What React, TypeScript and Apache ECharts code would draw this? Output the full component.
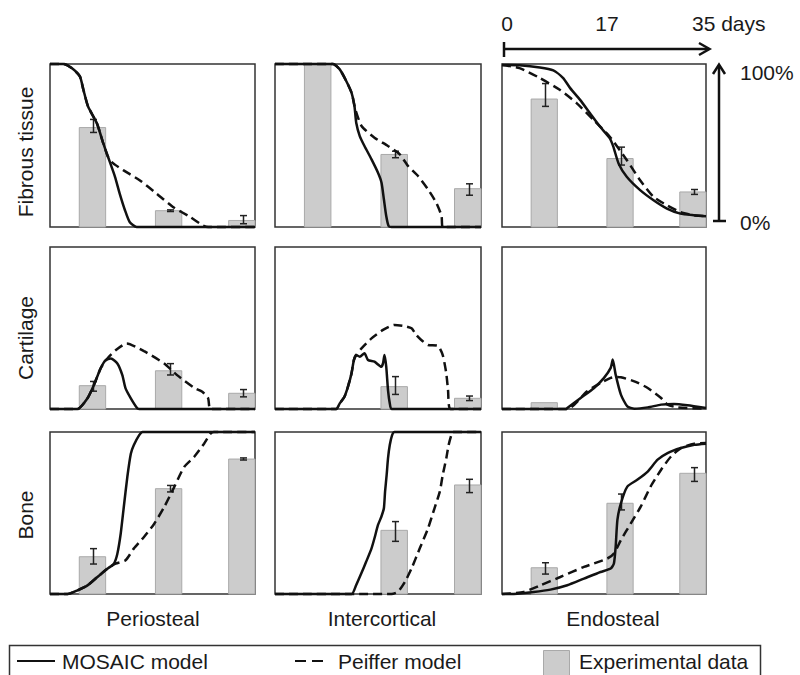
import React, { useEffect, useRef } from "react";
import * as echarts from "echarts";

// ---- layout labels ----
const rowLabels = ["Fibrous tissue", "Cartilage", "Bone"];
const colLabels = ["Periosteal", "Intercortical", "Endosteal"];
const dayTicks = ["0", "17", "35 days"];
const pctTicks = ["100%", "0%"];
const legendLabels = ["MOSAIC model", "Peiffer model", "Experimental data"];

// ---- experimental bars (days span of each bar) ----
const barStart = [5, 18, 30.5];
const barEnd = [9.5, 22.5, 35];

// values (%) and error bars [low, high]
const fibPerioBars = [61, 10, 4];
const fibPerioErr = [[58, 66], [9.5, 10.5], [2, 7]];
const fibInterBars = [100, 44.5, 23.5];
const fibInterErr = [null, [42.5, 46.5], [19.5, 26.5]];
const fibEndoBars = [78.5, 42, 21.5];
const fibEndoErr = [[74, 88], [38, 49], [20, 23]];

const cartPerioBars = [14.4, 23.6, 9.7];
const cartPerioErr = [[11, 17], [21, 28], [7.5, 12]];
const cartInterBars = [0, 13.8, 6.6];
const cartInterErr = [null, [9, 20], [5.2, 8]];
const cartEndoBars = [3.9, 0, 0];
const cartEndoErr = [null, null, null];

const bonePerioBars = [23, 65, 83.3];
const bonePerioErr = [[18.5, 28], [63, 67], [82.7, 84]];
const boneInterBars = [0, 39.3, 67.3];
const boneInterErr = [null, [32.5, 44.7], [62.6, 70.8]];
const boneEndoBars = [16.2, 56, 74.5];
const boneEndoErr = [[12.3, 19.3], [51.9, 61.7], [69.5, 78]];

// ---- model curves [day, %] ----
const fibPerioMosaic = [[0, 100], [2.3, 100], [3.7, 97.5], [5.1, 92.4], [5.7, 84.2], [6.5, 73.9], [8.0, 63.7], [9.1, 51.3], [9.9, 43.1], [11.1, 30.8], [11.9, 20.5], [12.8, 10.3], [13.6, 3.1], [14.8, 0], [35, 0]];
const fibPerioPeiffer = [[0, 100], [2.3, 100], [3.7, 97.5], [5.1, 92.4], [5.7, 84.2], [6.5, 73.9], [8.0, 63.7], [9.1, 51.3], [9.9, 43.1], [10.8, 39], [12.5, 34.9], [15.3, 28.7], [18.2, 20.5], [21.0, 12.3], [23.9, 6.2], [26.1, 1], [27, 0], [35, 0]];
const fibInterMosaic = [[0, 100], [9.85, 100], [11.0, 96.7], [12.1, 89.6], [13.0, 82.4], [13.5, 74.2], [13.8, 64], [14.4, 55.8], [15.2, 49.7], [16.4, 41.5], [17.5, 33.3], [18.1, 27.2], [18.5, 17], [18.9, 6.7], [19.3, 0.6], [19.8, 0], [35, 0]];
const fibInterPeiffer = [[0, 100], [9.85, 100], [11.0, 96.7], [12.1, 89.6], [13.0, 82.4], [13.65, 72.2], [14.7, 62], [16.9, 54.8], [19.2, 49.7], [21.2, 44.6], [22.6, 37.4], [24.3, 31.3], [26.0, 23.1], [27.4, 14.9], [28.3, 6.7], [28.5, 0], [35, 0]];
const fibEndoMosaic = [[0, 99.4], [3.0, 99.2], [6.5, 97.9], [8.8, 96.1], [10.5, 91.4], [11.7, 85.2], [13.4, 78], [15.1, 69.8], [16.8, 61.6], [18.5, 54.4], [19.1, 49.3], [20.0, 39], [21.4, 30.8], [23.7, 22.6], [26.0, 16.4], [28.3, 11.3], [30.6, 8.2], [32.9, 7.2], [35, 6.6]];
const fibEndoPeiffer = [[0, 99.4], [3.0, 97.5], [6.5, 91.4], [9.9, 84.2], [12.8, 76], [15.7, 65.7], [18.5, 55.4], [21.4, 41.1], [23.7, 28.7], [26.0, 18.5], [28.3, 13.3], [30.6, 9.2], [32.9, 7.2], [35, 6.6]];

const cartPerioMosaic = [[0, 0], [4.7, 0], [6.4, 6.6], [7.5, 14.8], [8.65, 25.1], [9.5, 30.2], [10.4, 31.2], [11.5, 28.1], [12.35, 20.9], [12.9, 12.7], [13.8, 6.6], [14.9, 0.4], [15.2, 0], [35, 0]];
const cartPerioPeiffer = [[0, 0], [4.7, 0], [6.4, 6.6], [7.5, 14.8], [8.65, 25.1], [9.8, 31.2], [11.2, 36.3], [13.1, 40.5], [16.05, 35.7], [19.5, 28.1], [21.7, 20.9], [24.6, 13.1], [26.0, 10.7], [27.0, 6.6], [27.4, 0], [35, 0]];
const cartInterMosaic = [[0, 0], [10.4, 0], [11.0, 3.5], [11.8, 7.6], [12.4, 13.8], [13.0, 22], [13.4, 30.2], [13.8, 33.3], [14.4, 32.3], [15.2, 34.4], [15.8, 30.2], [16.9, 29.2], [18.07, 26.1], [18.35, 28.2], [18.6, 33.3], [18.9, 26.1], [19.2, 11.7], [19.5, 3.5], [19.8, 0], [35, 0]];
const cartInterPeiffer = [[0, 0], [10.4, 0], [11.0, 3.5], [11.8, 7.6], [12.4, 13.8], [13.0, 22], [13.4, 30.2], [13.8, 33.3], [14.7, 37.4], [16.4, 43.6], [18.35, 48.8], [20.3, 51.9], [22.0, 51.2], [23.2, 49.8], [24.0, 45.7], [24.85, 42.6], [26.0, 39.5], [27.7, 38.9], [28.5, 33.3], [29.1, 22], [29.4, 11.7], [29.8, 0], [35, 0]];
const cartEndoMosaic = [[0, 0], [11.0, 0], [11.2, 0.6], [13.5, 6.8], [15.8, 13], [17.5, 19.2], [18.65, 25.4], [19.0, 30.5], [19.5, 21.2], [20.4, 8.9], [21.5, 1.6], [22.7, 0.2], [25.0, 1.0], [27.3, 2.7], [29.5, 3.1], [31.8, 2.3], [35, 0.6]];
const cartEndoPeiffer = [[0, 0], [11.2, 0], [14.6, 10.9], [16.9, 16.1], [18.65, 19.2], [19.4, 19.8], [20.4, 19.6], [22.7, 17.1], [25.0, 13], [27.3, 6.8], [28.4, 2.7], [30.1, 1.0], [35, 0.2]];

const bonePerioMosaic = [[0, 0], [3.0, 0], [4.7, 2.3], [6.4, 5.3], [8.1, 10.5], [9.8, 15.6], [10.9, 18.7], [11.5, 24.9], [12.07, 37.2], [12.6, 53.7], [13.2, 72.2], [13.8, 86.6], [14.3, 91.8], [15.2, 97.9], [15.8, 100], [35, 100]];
const bonePerioPeiffer = [[0, 0], [3.0, 0], [4.7, 2.3], [6.4, 5.3], [8.1, 10.5], [9.8, 15.6], [11.2, 18.7], [12.9, 20.8], [14.3, 28], [16.05, 35.2], [17.8, 43.4], [19.5, 53.7], [21.2, 66], [22.9, 78.4], [24.6, 84.6], [26.3, 92.8], [27.4, 99], [28.0, 100], [35, 100]];
const boneInterMosaic = [[0, 0], [13.0, 0], [13.8, 5.6], [14.67, 12.8], [15.5, 20], [16.4, 28.2], [16.9, 34.4], [17.5, 42.6], [18.07, 47.7], [18.5, 52.9], [18.7, 63.2], [18.97, 73.5], [19.2, 83.7], [19.5, 92], [19.9, 98.1], [20.3, 100], [35, 100]];
const boneInterPeiffer = [[0, 0], [19.8, 0], [20.9, 1.4], [22.1, 7.6], [23.2, 15.8], [24.6, 28.2], [26.0, 40.5], [27.1, 52.9], [28.0, 63.2], [28.5, 73.5], [29.1, 83.7], [29.5, 92], [29.95, 98.1], [30.2, 100], [35, 100]];
const boneEndoMosaic = [[0, 0], [2.6, 0.2], [5.45, 1.2], [8.3, 2.7], [11.2, 5.4], [14.06, 9.5], [16.9, 13.6], [18.65, 15.7], [19.2, 18.8], [19.5, 29.1], [19.8, 45.7], [20.4, 56], [21.5, 66.3], [23.2, 70.5], [25.0, 75.6], [26.7, 82.9], [28.4, 87], [30.7, 90.1], [33.0, 92.1], [35, 92.8]];
const boneEndoPeiffer = [[0, 0], [3.7, 1.2], [6.6, 5.4], [10.0, 10.5], [14.06, 16.7], [18.07, 21.9], [19.2, 25], [20.4, 33.3], [22.1, 43.6], [23.8, 53.9], [25.5, 66.3], [27.3, 76.7], [29.0, 84.9], [30.7, 90.1], [33.0, 92.8], [35, 93.2]];

const panels = [
  [fibPerioBars, fibPerioErr, fibPerioMosaic, fibPerioPeiffer],
  [fibInterBars, fibInterErr, fibInterMosaic, fibInterPeiffer],
  [fibEndoBars, fibEndoErr, fibEndoMosaic, fibEndoPeiffer],
  [cartPerioBars, cartPerioErr, cartPerioMosaic, cartPerioPeiffer],
  [cartInterBars, cartInterErr, cartInterMosaic, cartInterPeiffer],
  [cartEndoBars, cartEndoErr, cartEndoMosaic, cartEndoPeiffer],
  [bonePerioBars, bonePerioErr, bonePerioMosaic, bonePerioPeiffer],
  [boneInterBars, boneInterErr, boneInterMosaic, boneInterPeiffer],
  [boneEndoBars, boneEndoErr, boneEndoMosaic, boneEndoPeiffer],
];

const FONT = "'Liberation Sans', Arial, Helvetica, sans-serif";
const TXT = "#1a1a1a";

export default function App() {
  const ref = useRef<HTMLDivElement>(null);

  useEffect(() => {
    if (!ref.current) return;
    const chart = echarts.init(ref.current, null, { renderer: "svg" });

    const colLeft = [50, 275, 502];
    const colWidth = [205, 206, 204];
    const rowTop = [64, 247, 432];
    const rowHeight = [163, 162, 162];

    const grid: any[] = [];
    const xAxis: any[] = [];
    const yAxis: any[] = [];
    const series: any[] = [];

    panels.forEach((p, i) => {
      const r = Math.floor(i / 3);
      const c = i % 3;
      grid.push({
        left: colLeft[c],
        top: rowTop[r],
        width: colWidth[c],
        height: rowHeight[r],
        show: true,
        borderColor: "#333",
        borderWidth: 1.5,
        backgroundColor: "transparent",
      });
      xAxis.push({ type: "value", gridIndex: i, min: 0, max: 35, show: false });
      yAxis.push({ type: "value", gridIndex: i, min: 0, max: 100, show: false });

      const bars = p[0] as number[];
      const errs = p[1] as (number[] | null)[];
      const barData = bars.map((v, k) => [barStart[k], barEnd[k], v]);
      series.push({
        type: "custom",
        xAxisIndex: i,
        yAxisIndex: i,
        clip: false,
        encode: { x: [0, 1], y: 2 },
        data: barData,
        renderItem: (params: any, api: any) => {
          const k = params.dataIndex;
          const v = bars[k];
          const children: any[] = [];
          if (v > 0) {
            const a = api.coord([barStart[k], v]);
            const b = api.coord([barEnd[k], 0]);
            children.push({
              type: "rect",
              shape: { x: a[0], y: a[1], width: b[0] - a[0], height: b[1] - a[1] },
              style: { fill: "#cccccc", stroke: "#a9a9a9", lineWidth: 1 },
            });
          }
          const e = errs[k];
          if (e) {
            const cx = (barStart[k] + barEnd[k]) / 2;
            const lo = api.coord([cx, e[0]]);
            const hi = api.coord([cx, e[1]]);
            const x = Math.round(lo[0]) + 1.5;
            const st = { stroke: "#222", lineWidth: 1.5 };
            children.push({ type: "line", shape: { x1: x, y1: lo[1], x2: x, y2: hi[1] }, style: st });
            children.push({ type: "line", shape: { x1: x - 3.5, y1: lo[1], x2: x + 3.5, y2: lo[1] }, style: st });
            children.push({ type: "line", shape: { x1: x - 3.5, y1: hi[1], x2: x + 3.5, y2: hi[1] }, style: st });
          }
          return { type: "group", children };
        },
      });
      series.push({
        type: "line",
        name: "Peiffer model",
        xAxisIndex: i,
        yAxisIndex: i,
        data: p[3],
        showSymbol: false,
        clip: false,
        smooth: 0.2,
        lineStyle: { color: "#111", width: 2.5, type: [9, 5] },
      });
      series.push({
        type: "line",
        name: "MOSAIC model",
        xAxisIndex: i,
        yAxisIndex: i,
        data: p[2],
        showSymbol: false,
        clip: false,
        smooth: 0.2,
        lineStyle: { color: "#111", width: 2.5 },
      });
    });

    const textStyle = (extra: any) => ({ fontFamily: FONT, fontSize: 21, fill: TXT, ...extra });

    const graphic: any[] = [];
    // row labels (rotated)
    const rowLabelY = [152, 338, 515];
    rowLabels.forEach((t, k) => {
      graphic.push({
        type: "text",
        x: 25,
        y: rowLabelY[k],
        rotation: Math.PI / 2,
        style: textStyle({ text: t, textAlign: "center", textVerticalAlign: "middle" }),
      });
    });
    // column labels
    const colLabelX = [153, 382, 613];
    colLabels.forEach((t, k) => {
      graphic.push({
        type: "text",
        x: colLabelX[k],
        y: 618,
        style: textStyle({ text: t, textAlign: "center", textVerticalAlign: "middle" }),
      });
    });
    // top days axis
    graphic.push({ type: "text", x: 507, y: 23, style: textStyle({ text: dayTicks[0], textAlign: "center", textVerticalAlign: "middle" }) });
    graphic.push({ type: "text", x: 607, y: 23, style: textStyle({ text: dayTicks[1], textAlign: "center", textVerticalAlign: "middle" }) });
    graphic.push({ type: "text", x: 692, y: 23, style: textStyle({ text: dayTicks[2], textAlign: "left", textVerticalAlign: "middle" }) });
    const arrowStyle = { stroke: "#111", lineWidth: 2.5, fill: "none" };
    graphic.push({ type: "line", shape: { x1: 504, y1: 49, x2: 709, y2: 49 }, style: arrowStyle });
    graphic.push({ type: "line", shape: { x1: 504, y1: 42, x2: 504, y2: 57 }, style: arrowStyle });
    graphic.push({ type: "polyline", shape: { points: [[699, 43], [709.5, 49], [699, 55]] }, style: arrowStyle });
    // right percentage axis
    graphic.push({ type: "line", shape: { x1: 719, y1: 221, x2: 719, y2: 65 }, style: arrowStyle });
    graphic.push({ type: "line", shape: { x1: 713, y1: 221, x2: 726, y2: 221 }, style: arrowStyle });
    graphic.push({ type: "polyline", shape: { points: [[713, 74], [719, 64.5], [725, 74]] }, style: arrowStyle });
    graphic.push({ type: "text", x: 740, y: 72, style: textStyle({ text: pctTicks[0], textAlign: "left", textVerticalAlign: "middle" }) });
    graphic.push({ type: "text", x: 740, y: 222, style: textStyle({ text: pctTicks[1], textAlign: "left", textVerticalAlign: "middle" }) });

    // legend
    graphic.push({ type: "rect", shape: { x: 9.5, y: 645.5, width: 751, height: 45 }, style: { fill: "none", stroke: "#333", lineWidth: 1.5 } });
    graphic.push({ type: "line", shape: { x1: 17, y1: 661, x2: 55, y2: 661 }, style: { stroke: "#111", lineWidth: 2 } });
    graphic.push({ type: "text", x: 62, y: 661, style: textStyle({ text: legendLabels[0], textAlign: "left", textVerticalAlign: "middle" }) });
    graphic.push({ type: "line", shape: { x1: 295, y1: 661, x2: 323, y2: 661 }, style: { stroke: "#111", lineWidth: 2, lineDash: [11, 6] } });
    graphic.push({ type: "text", x: 338, y: 661, style: textStyle({ text: legendLabels[1], textAlign: "left", textVerticalAlign: "middle" }) });
    graphic.push({ type: "rect", shape: { x: 543.5, y: 650.5, width: 26, height: 27 }, style: { fill: "#cccccc", stroke: "#a9a9a9", lineWidth: 1 } });
    graphic.push({ type: "text", x: 579, y: 661, style: textStyle({ text: legendLabels[2], textAlign: "left", textVerticalAlign: "middle" }) });

    chart.setOption({
      animation: false,
      backgroundColor: "#ffffff",
      grid,
      xAxis,
      yAxis,
      series,
      graphic,
    });

    return () => chart.dispose();
  }, []);

  return (
    <div
      ref={ref}
      style={{ position: "absolute", left: 0, top: 0, width: 800, height: 675 }}
    />
  );
}
